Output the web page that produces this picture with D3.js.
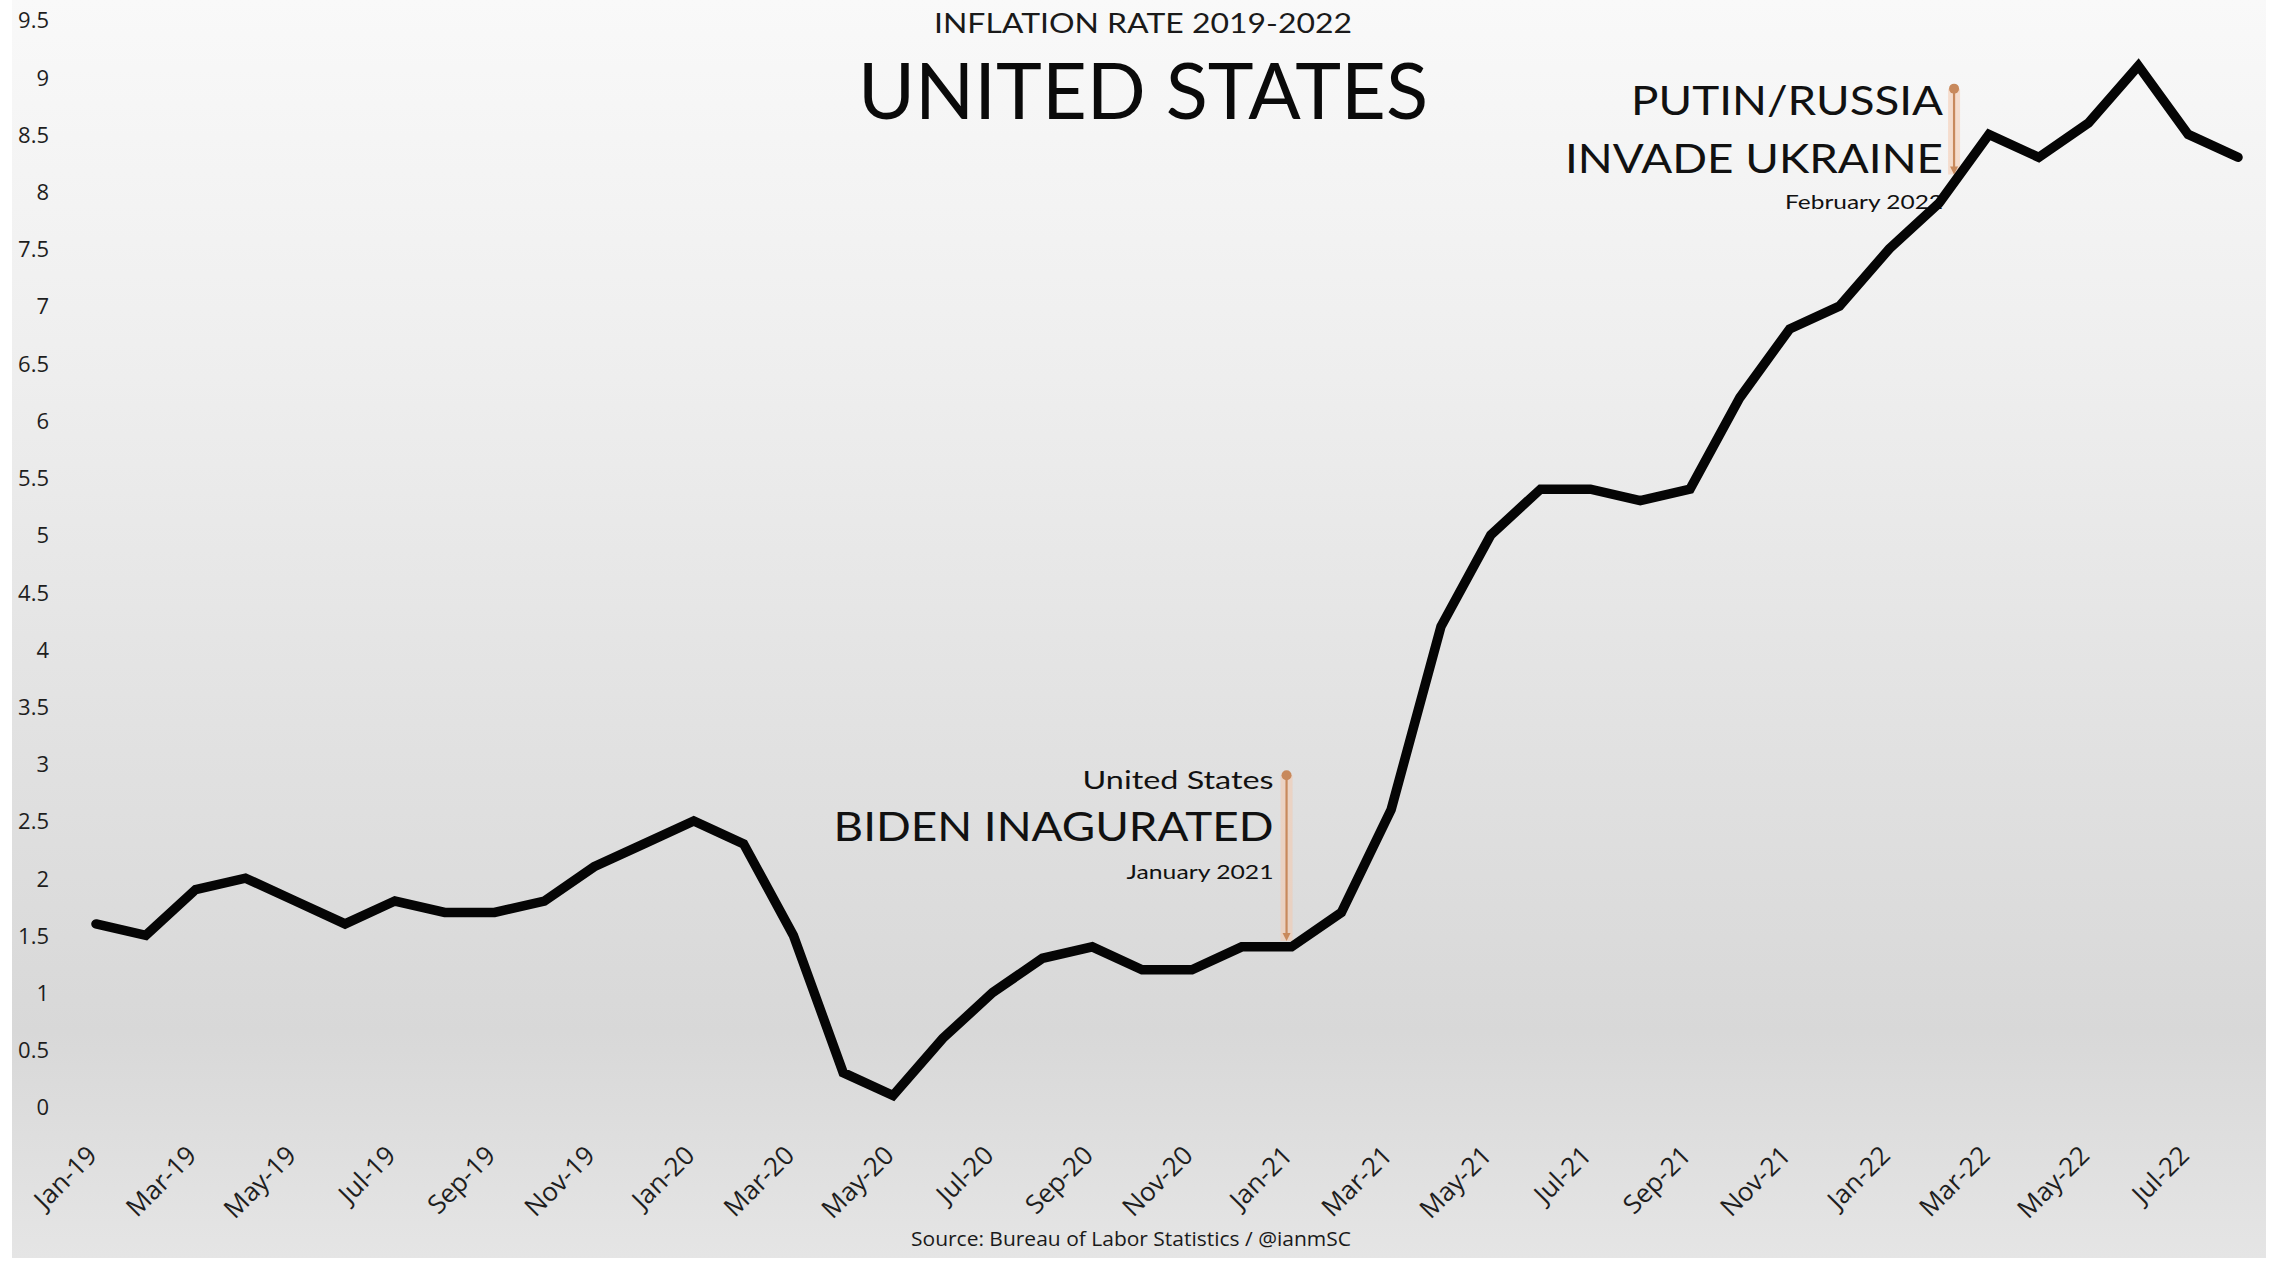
<!DOCTYPE html>
<html>
<head>
<meta charset="utf-8">
<script src="https://cdn.jsdelivr.net/npm/d3@7"></script>
<style>
  html, body { margin: 0; padding: 0; background: #ffffff; }
  svg { display: block; }
</style>
</head>
<body>
<svg id="chart" width="2279" height="1264"></svg>
<script>
// ---------- DATA ----------
const months = [
  "Jan-19","Feb-19","Mar-19","Apr-19","May-19","Jun-19","Jul-19","Aug-19","Sep-19","Oct-19","Nov-19","Dec-19",
  "Jan-20","Feb-20","Mar-20","Apr-20","May-20","Jun-20","Jul-20","Aug-20","Sep-20","Oct-20","Nov-20","Dec-20",
  "Jan-21","Feb-21","Mar-21","Apr-21","May-21","Jun-21","Jul-21","Aug-21","Sep-21","Oct-21","Nov-21","Dec-21",
  "Jan-22","Feb-22","Mar-22","Apr-22","May-22","Jun-22","Jul-22","Aug-22"
];
const inflation = [
  1.6, 1.5, 1.9, 2.0, 1.8, 1.6, 1.8, 1.7, 1.7, 1.8, 2.1, 2.3,
  2.5, 2.3, 1.5, 0.3, 0.1, 0.6, 1.0, 1.3, 1.4, 1.2, 1.2, 1.4,
  1.4, 1.7, 2.6, 4.2, 5.0, 5.4, 5.4, 5.3, 5.4, 6.2, 6.8, 7.0,
  7.5, 7.9, 8.5, 8.3, 8.6, 9.1, 8.5, 8.3
];
const xTickLabels = [
  "Jan-19","Mar-19","May-19","Jul-19","Sep-19","Nov-19",
  "Jan-20","Mar-20","May-20","Jul-20","Sep-20","Nov-20",
  "Jan-21","Mar-21","May-21","Jul-21","Sep-21","Nov-21",
  "Jan-22","Mar-22","May-22","Jul-22"
];
const yTickValues = [0,0.5,1,1.5,2,2.5,3,3.5,4,4.5,5,5.5,6,6.5,7,7.5,8,8.5,9,9.5];

// annotations: position in month-index units, top / bottom value of the marker
const annotMonthPos = [23.9, 37.3];
const annotTop = [2.9, 8.9];
const annotBottom = [1.45, 8.15];

const subtitle = "INFLATION RATE 2019-2022";
const title = "UNITED STATES";
const source = "Source: Bureau of Labor Statistics / @ianmSC";

// ---------- SETUP ----------
const W = 2279, H = 1264;
const svg = d3.select("#chart");
const defs = svg.append("defs");

const grad = defs.append("linearGradient")
  .attr("id", "bg").attr("x1", 0).attr("y1", 0).attr("x2", 0).attr("y2", 1);
[[0, "#f9f9f9"], [0.3, "#eeeeee"], [0.62, "#e0e0e0"], [0.82, "#d8d8d8"], [1, "#e5e5e5"]]
  .forEach(([o, c]) => grad.append("stop").attr("offset", o).attr("stop-color", c));

svg.append("rect").attr("x", 0).attr("y", 0).attr("width", W).attr("height", H).attr("fill", "#ffffff");
svg.append("rect").attr("x", 12).attr("y", 0).attr("width", 2254).attr("height", 1258).attr("fill", "url(#bg)");

const x = d3.scalePoint().domain(months).range([96, 2238]);
const xi = d3.scaleLinear().domain([0, months.length - 1]).range([96, 2238]);
const y = d3.scaleLinear().domain([0, 9.5]).range([1107, 20]);

const FONT = "Lato, 'Open Sans', 'DejaVu Sans', sans-serif";

// ---------- AXES ----------
const yAxis = svg.append("g")
  .attr("transform", "translate(49,0)")
  .call(d3.axisLeft(y).tickValues(yTickValues).tickSize(0).tickPadding(0).tickFormat(d => String(d)));
yAxis.select(".domain").remove();
yAxis.selectAll("text")
  .attr("font-family", "'Open Sans', Lato, sans-serif")
  .attr("font-size", 22)
  .attr("fill", "#1e1e1e")
  .attr("dy", "0.36em");

const xAxis = svg.append("g")
  .attr("transform", `translate(0,${y(0)})`)
  .call(d3.axisBottom(x).tickValues(xTickLabels).tickSize(0).tickPadding(0));
xAxis.select(".domain").remove();
xAxis.selectAll("text")
  .attr("font-family", "'Open Sans', Lato, sans-serif")
  .attr("font-size", 26)
  .attr("fill", "#1e1e1e")
  .attr("x", 0).attr("y", 0).attr("dy", 0)
  .attr("text-anchor", "end")
  .attr("transform", "translate(2,50) rotate(-45)");

// ---------- TITLES ----------
svg.append("text")
  .attr("x", 1143).attr("y", 33)
  .attr("text-anchor", "middle")
  .attr("font-family", FONT).attr("font-size", 27).attr("fill", "#1a1a1a")
  .attr("textLength", 418).attr("lengthAdjust", "spacingAndGlyphs")
  .text(subtitle);

svg.append("text")
  .attr("x", 1143).attr("y", 119)
  .attr("text-anchor", "middle")
  .attr("font-family", FONT).attr("font-size", 78).attr("fill", "#0a0a0a")
  .attr("textLength", 570).attr("lengthAdjust", "spacingAndGlyphs")
  .text(title);

svg.append("text")
  .attr("x", 1131).attr("y", 1246)
  .attr("text-anchor", "middle")
  .attr("font-family", "'Liberation Sans Narrow', 'Open Sans', sans-serif").attr("font-size", 20).attr("fill", "#1a1a1a")
  .attr("textLength", 440).attr("lengthAdjust", "spacingAndGlyphs")
  .text(source);

// ---------- ANNOTATION TEXT ----------
function annText(xr, yb, size, txt, len, weight) {
  svg.append("text")
    .attr("x", xr).attr("y", yb)
    .attr("text-anchor", "end")
    .attr("font-family", FONT).attr("font-size", size).attr("fill", "#111")
    .attr("font-weight", weight || 400)
    .attr("textLength", len).attr("lengthAdjust", "spacingAndGlyphs")
    .text(txt);
}
const bx = xi(annotMonthPos[0]) - 13;
annText(bx, 789, 25, "United States", 191);
annText(bx, 841, 41, "BIDEN INAGURATED", 440);
annText(bx, 879, 20, "January 2021", 147);

const px = xi(annotMonthPos[1]) - 11;
annText(px, 115, 41, "PUTIN/RUSSIA", 312);
annText(px, 173, 41, "INVADE UKRAINE", 378);
annText(px, 209, 20, "February 2022", 158);

// ---------- ANNOTATION MARKERS ----------
annotMonthPos.forEach((m, i) => {
  const ax = xi(m), y0 = y(annotTop[i]), y1 = y(annotBottom[i]);
  svg.append("line").attr("x1", ax).attr("x2", ax).attr("y1", y0).attr("y2", y1)
    .attr("stroke", "#f4c9ad").attr("stroke-opacity", 0.55).attr("stroke-width", 12);
  svg.append("line").attr("x1", ax).attr("x2", ax).attr("y1", y0).attr("y2", y1 - 6)
    .attr("stroke", "#c8895c").attr("stroke-width", 2.2);
  svg.append("path")
    .attr("d", d3.line()([[ax - 4, y1 - 8], [ax + 4, y1 - 8], [ax, y1]]) + "Z")
    .attr("fill", "#c8895c");
  svg.append("circle").attr("cx", ax).attr("cy", y0).attr("r", 5).attr("fill", "#c8895c");
});

// ---------- DATA LINE ----------
const line = d3.line()
  .x((d, i) => x(months[i]))
  .y(d => y(d));

svg.append("path")
  .datum(inflation)
  .attr("d", line)
  .attr("fill", "none")
  .attr("stroke", "#050505")
  .attr("stroke-width", 9.5)
  .attr("stroke-linejoin", "miter")
  .attr("stroke-linecap", "round");
</script>
</body>
</html>
